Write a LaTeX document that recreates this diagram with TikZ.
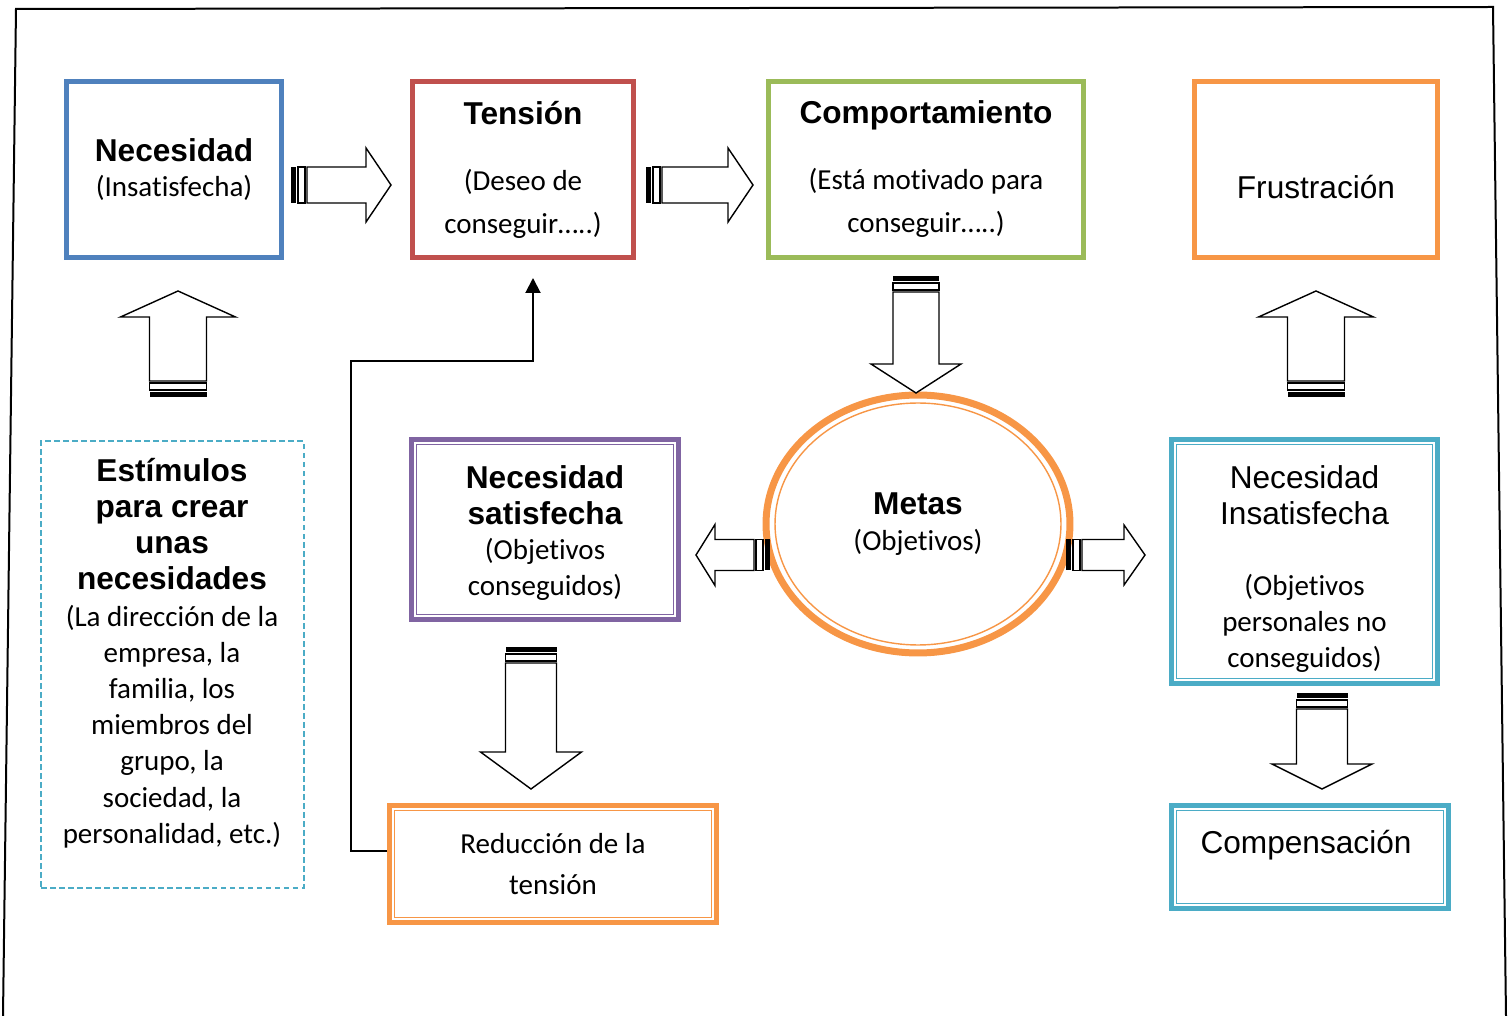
\documentclass[tikz,border=0pt]{standalone}
\usepackage{fontspec}
\setmainfont{Carlito}[Ligatures={NoCommon,NoContextual}, Contextuals=NoAlternate]
\newfontfamily\arial{Liberation Sans}
\usetikzlibrary{arrows.meta,shapes.geometric,calc}

\definecolor{azul}{HTML}{4F81BD}
\definecolor{rojo}{HTML}{C0504D}
\definecolor{verde}{HTML}{9BBB59}
\definecolor{naranja}{HTML}{F79646}
\definecolor{violeta}{HTML}{8064A2}
\definecolor{cian}{HTML}{4BACC6}

\newcommand{\cuerpo}{\fontsize{16.5}{20.4}\selectfont}
\newcommand{\negrita}{\arial\bfseries\fontsize{18}{21}\selectfont}
\newcommand{\letra}{\arial\fontsize{18}{21}\selectfont}

% flecha de bloque rayada: cola, angulo, largo, medio cuerpo, media punta, largo punta
\newcommand{\flecha}[6]{%
  \begin{scope}[shift={#1}, rotate=#2, line width=0.8pt]
    \fill (0,-#4) rectangle (5,#4);
    \draw[fill=white] (7,-#4) rectangle (14,#4);
    \draw[fill=white, line join=miter] (16,-#4) -- ({#3-#6},-#4) -- ({#3-#6},-#5)
      -- (#3,0) -- ({#3-#6},#5) -- ({#3-#6},#4) -- (16,#4) -- cycle;
  \end{scope}}

\begin{document}
\begin{tikzpicture}[
  x=0.02cm, y=-0.02cm,
  caja/.style={draw=#1, line width=0.11cm, inner sep=0pt, align=center,
               font=\cuerpo},
  doble/.style={draw=#1, line width=0.1cm, inner sep=0pt, align=center,
                font=\cuerpo},
  conn/.style={line width=0.04cm, -{Triangle[length=0.3cm,width=0.3cm]}}
]
  \useasboundingbox (0,0) rectangle (1512,1016);
  \draw[line width=0.04cm] (3,1016) -- (16,9) -- (1493,7) -- (1506,1016);

  \node[caja=azul, minimum width=4.3cm, minimum height=3.52cm] (necesidad)
    at (174,169.5) {{\negrita Necesidad}\\(Insatisfecha)};
  \node[caja=rojo, minimum width=4.42cm, minimum height=3.52cm,
        font=\fontsize{16.5}{24.5}\selectfont] (tension)
    at (523,169.5) {{\negrita Tensión}\\[13pt](Deseo de\\conseguir…..)};
  \node[caja=verde, minimum width=6.3cm, minimum height=3.52cm,
        font=\fontsize{16.5}{24.5}\selectfont] (comport)
    at (926,169.5) {{\negrita Comportamiento}\\[13pt](Está motivado para\\conseguir…..)};
  \node[caja=naranja, minimum width=4.86cm, minimum height=3.52cm] (frust)
    at (1316,169.5) {};
  \node[font=\letra] (frusttxt) at (1316,187) {Frustración};

  \node[draw=cian, line width=0.04cm, dash pattern=on 0.11cm off 0.07cm,
        minimum width=5.26cm, minimum height=8.94cm] (estim) at (172.5,664.5) {};
  \node[align=center, font=\fontsize{16.5}{20.6}\selectfont] (estimtxt) at (172,653)
    {{\negrita Estímulos}\\{\negrita para crear}\\{\negrita unas}\\
     {\negrita necesidades}\\(La dirección de la\\empresa, la\\familia, los\\
     miembros del\\grupo, la\\sociedad, la\\personalidad, etc.)};

  \node[doble=violeta, minimum width=5.34cm, minimum height=3.6cm] (satisf)
    at (545,529.5) {};
  \node[align=center, font=\cuerpo] (satisftxt) at (545,533)
    {{\negrita Necesidad}\\{\negrita satisfecha}\\(Objetivos\\conseguidos)};
  \node[doble=cian, minimum width=5.32cm, minimum height=4.88cm] (insatisf)
    at (1304.5,561.5) {};
  \node[align=center, font=\fontsize{16.5}{20.5}\selectfont] (insatisftxt)
    at (1304.5,569) {{\letra Necesidad}\\{\letra Insatisfecha}\\[20pt]
                     (Objetivos\\personales no\\conseguidos)};
  \node[doble=naranja, minimum width=6.54cm, minimum height=2.34cm,
        font=\fontsize{16.5}{23.2}\selectfont] (reduc)
    at (553,864) {Reducción de la\\tensión};
  \node[doble=cian, minimum width=5.54cm, minimum height=2.06cm] (compen)
    at (1310,857) {};
  \node[font=\letra] (compentxt) at (1306,845) {Compensación};

  \node[ellipse, draw=naranja, line width=0.14cm, minimum width=6.08cm,
        minimum height=5.16cm, inner sep=0pt, align=center, font=\cuerpo] (metas)
    at (918,524) {{\negrita Metas}\\(Objetivos)};
  \draw[naranja, line width=0.8pt] (metas.center) ellipse [x radius=2.86cm, y radius=2.42cm];

  \foreach \n/\c in {satisf/violeta, insatisf/cian, reduc/naranja, compen/cian}
    \draw[\c, line width=0.8pt] ($(\n.north west)+(7.5,7.5)$) rectangle ($(\n.south east)+(-7.5,-7.5)$);

  \flecha{(291,185)}{0}{100}{18}{37}{25}
  \flecha{(646,185)}{0}{107}{18}{37}{25}
  \flecha{(916,276)}{-90}{117}{23}{45}{29}
  \flecha{(178,397)}{90}{106}{28.5}{57.5}{26}
  \flecha{(1316,397)}{90}{106}{28.5}{57.5}{26}
  \flecha{(770,555)}{180}{74}{15.5}{30.5}{19}
  \flecha{(1066,555)}{0}{79}{15.5}{30}{21}
  \flecha{(531,647)}{-90}{142}{25.5}{50.5}{37}
  \flecha{(1322,693)}{-90}{96}{25.5}{50}{25}

  \coordinate (punta) at (533,278);
  \draw[conn] ($(reduc.west)+(0,-13)$) -| (351,361) -| (punta);
\end{tikzpicture}
\end{document}
